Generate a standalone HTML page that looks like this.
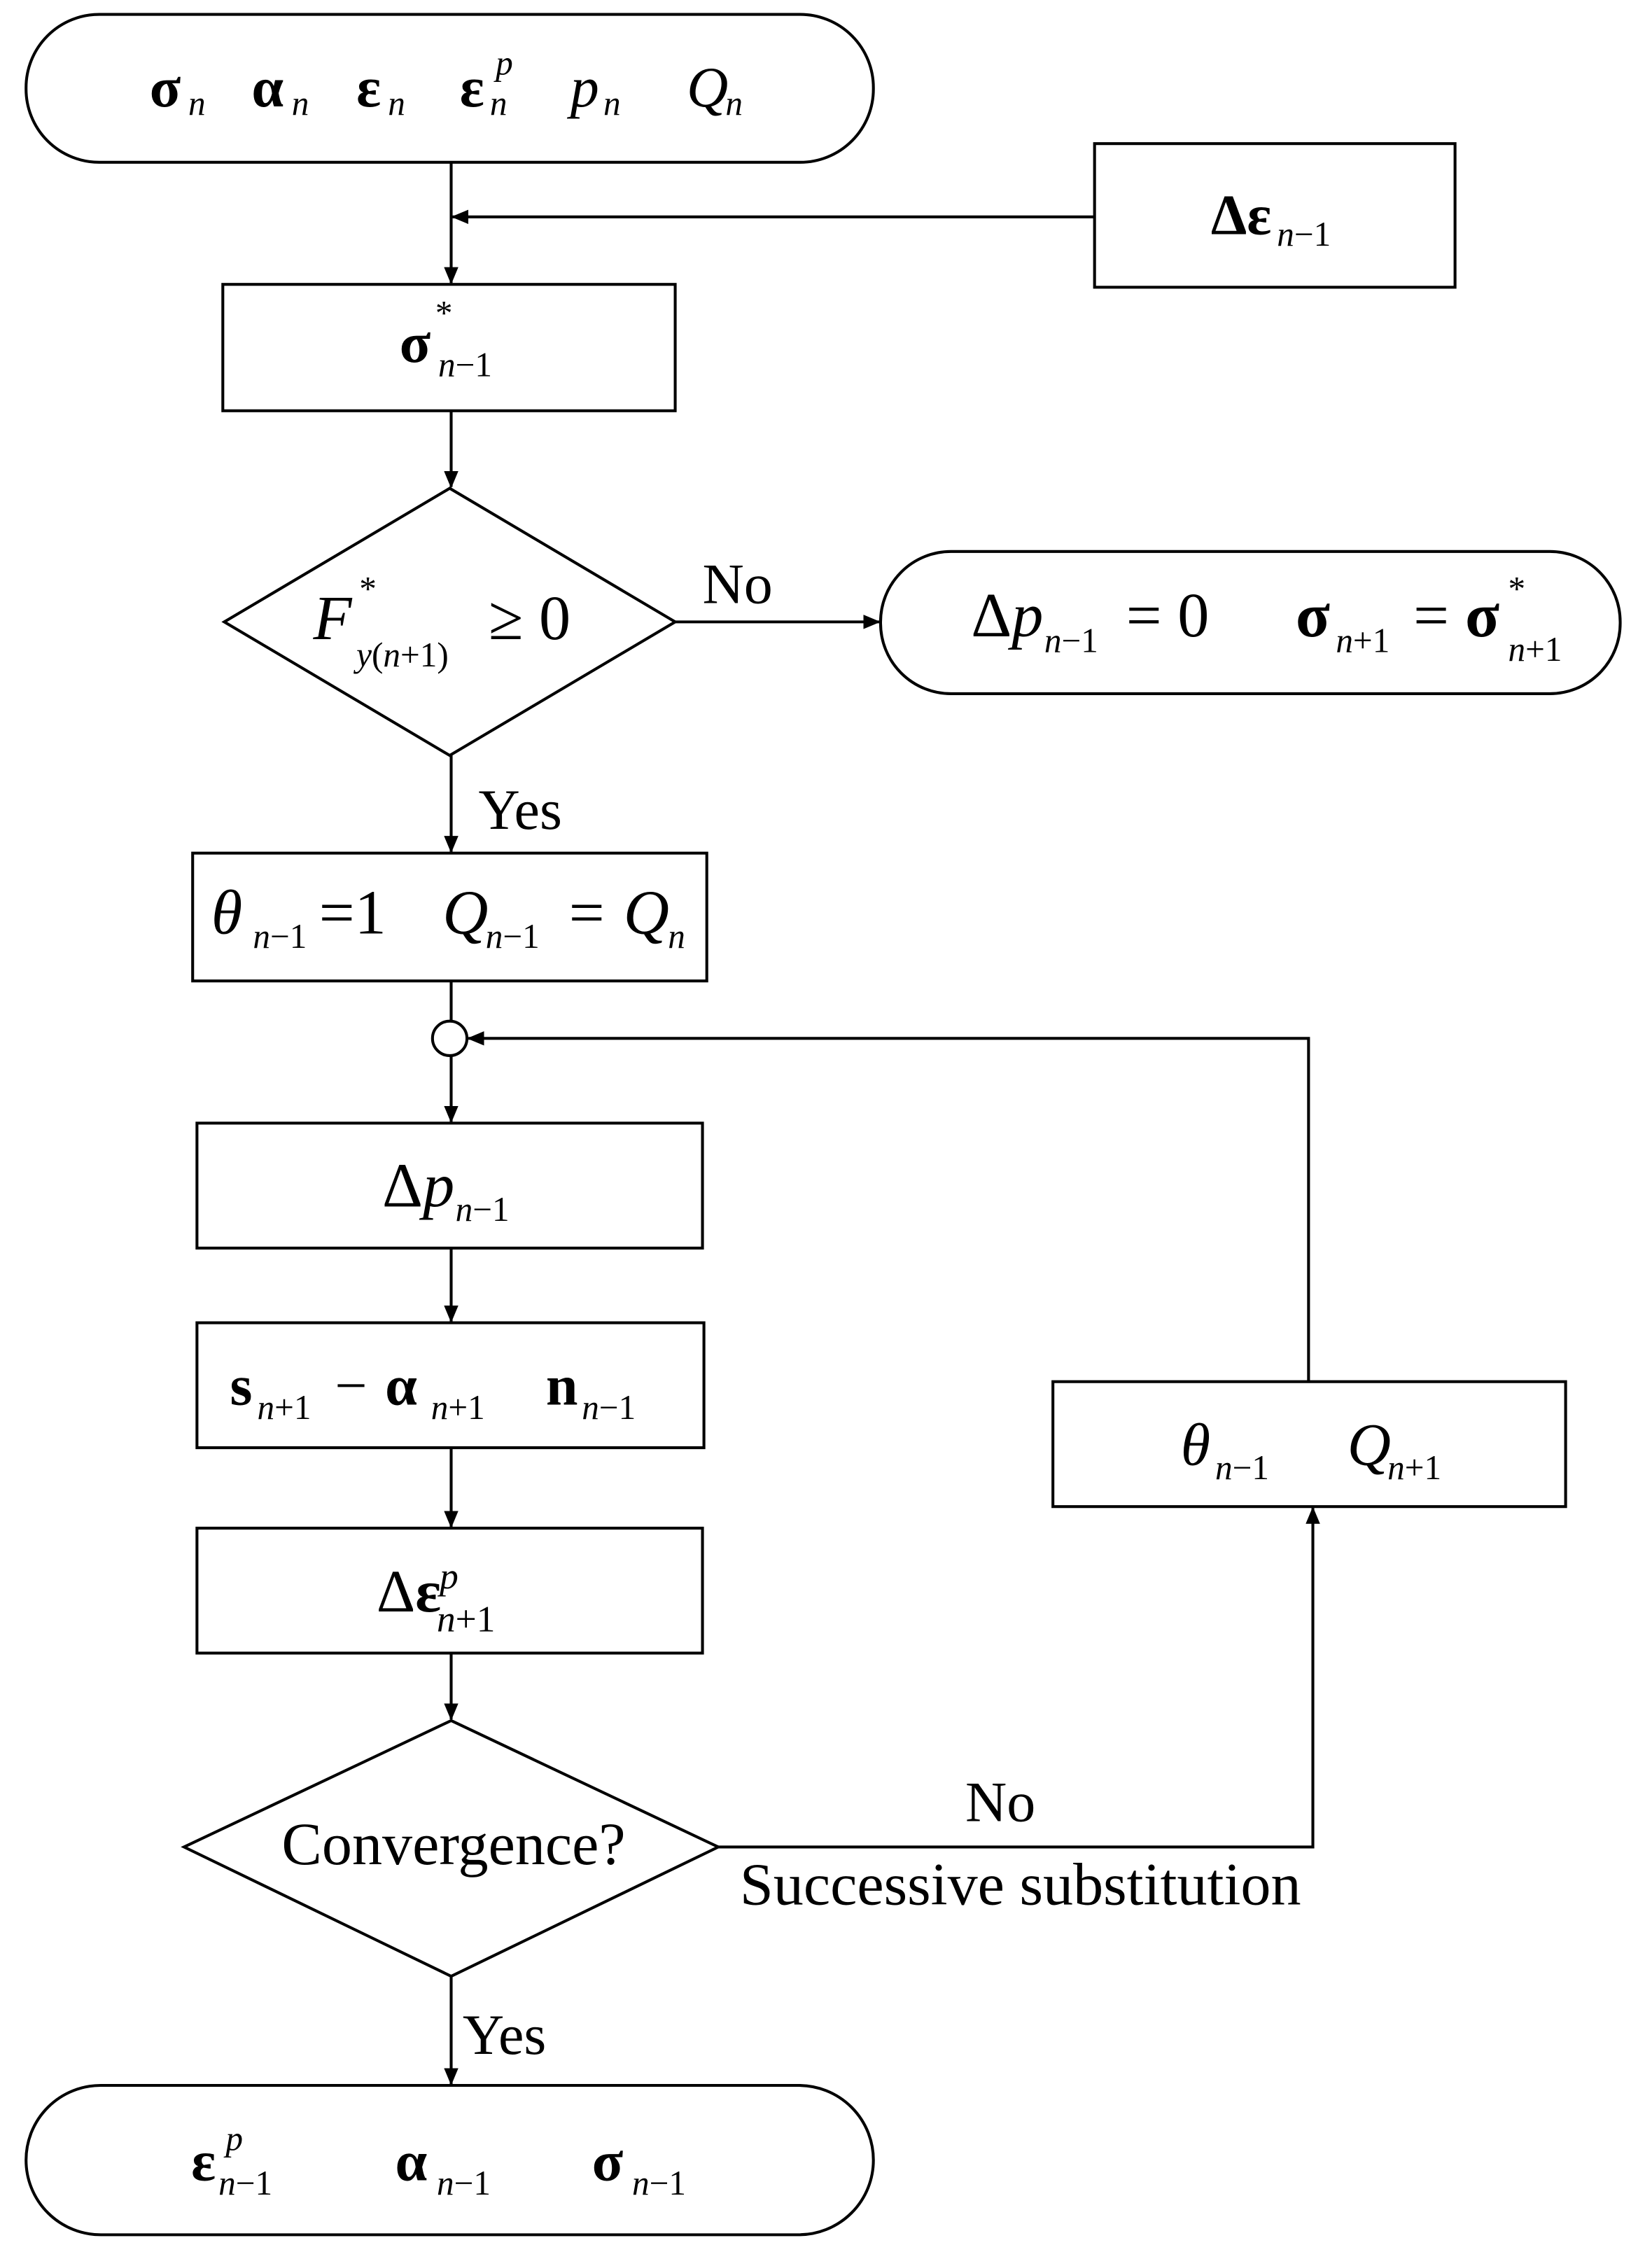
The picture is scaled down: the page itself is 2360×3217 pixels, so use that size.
<!DOCTYPE html>
<html><head><meta charset="utf-8"><style>
html,body{margin:0;padding:0;background:#fff}
svg{display:block}
text{font-family:"Liberation Serif","DejaVu Serif",serif;fill:#000}
.b{font-weight:bold}
.i{font-style:italic}
.s{font-size:24px}
</style></head><body>
<svg width="2360" height="3217" viewBox="0 0 1150 1568" xmlns="http://www.w3.org/2000/svg">
<defs><marker id="a" markerWidth="12" markerHeight="10" refX="11" refY="5" orient="auto" markerUnits="userSpaceOnUse"><path d="M0,0 L12,5 L0,10 Z" fill="#000"/></marker></defs>
<g fill="none" stroke="#000" stroke-width="2">
<rect x="18" y="10" width="590" height="103" rx="51"/>
<rect x="762" y="100" width="251" height="100"/>
<rect x="155" y="198" width="315" height="88"/>
<polygon points="313,340 470,433 313,526 156,433"/>
<rect x="613" y="384" width="515" height="99" rx="49"/>
<rect x="134" y="594" width="358" height="89"/>
<circle cx="313" cy="723" r="12"/>
<rect x="137" y="782" width="352" height="87"/>
<rect x="137" y="921" width="353" height="87"/>
<rect x="137" y="1064" width="352" height="87"/>
<polygon points="314,1198 500,1286 314,1376 128,1286"/>
<rect x="733" y="962" width="357" height="87"/>
<rect x="18" y="1452" width="590" height="104" rx="52"/>
<line x1="314" y1="113" x2="314" y2="197" marker-end="url(#a)"/>
<line x1="762" y1="151" x2="315" y2="151" marker-end="url(#a)"/>
<line x1="314" y1="286" x2="314" y2="339" marker-end="url(#a)"/>
<line x1="470" y1="433" x2="612" y2="433" marker-end="url(#a)"/>
<line x1="314" y1="526" x2="314" y2="593" marker-end="url(#a)"/>
<line x1="314" y1="683" x2="314" y2="711"/>
<line x1="314" y1="735" x2="314" y2="781" marker-end="url(#a)"/>
<polyline points="911,962 911,723 326,723" marker-end="url(#a)"/>
<line x1="314" y1="869" x2="314" y2="920" marker-end="url(#a)"/>
<line x1="314" y1="1008" x2="314" y2="1063" marker-end="url(#a)"/>
<line x1="314" y1="1151" x2="314" y2="1197" marker-end="url(#a)"/>
<polyline points="500,1286 914,1286 914,1050" marker-end="url(#a)"/>
<line x1="314" y1="1376" x2="314" y2="1451" marker-end="url(#a)"/>
</g>
<g font-size="40">
<!-- top -->
<text y="74"><tspan class="b" x="104">σ</tspan><tspan class="b" x="175">α</tspan><tspan class="b" x="248">ε</tspan><tspan class="b" x="320">ε</tspan><tspan class="i" x="397">p</tspan><tspan class="i" x="478">Q</tspan></text>
<text y="80" class="s i"><tspan x="131">n</tspan><tspan x="203">n</tspan><tspan x="270">n</tspan><tspan x="341">n</tspan><tspan x="420">n</tspan><tspan x="505">n</tspan></text>
<text y="52" class="s i" x="345">p</text>
<!-- delta eps -->
<text y="163" x="843" class="b">Δε</text>
<text y="171" x="889" class="s"><tspan class="i">n</tspan>−1</text>
<!-- sigma* -->
<text y="252" x="278" class="b">σ</text>
<text y="226" x="303" class="s">*</text>
<text y="262" x="305" class="s"><tspan class="i">n</tspan>−1</text>
<!-- F* -->
<text y="445" x="218" font-size="44" class="i">F</text>
<text y="418" x="250" class="s">*</text>
<text y="464" x="248" class="s"><tspan class="i">y</tspan>(<tspan class="i">n</tspan>+1)</text>
<text y="445" x="340" font-size="44">≥ 0</text>
<text y="420" x="489">No</text>
<!-- right pill -->
<text y="443" x="676" font-size="44">Δ<tspan class="i">p</tspan></text>
<text y="454" x="727" class="s"><tspan class="i">n</tspan>−1</text>
<text y="443" x="784" font-size="44">= 0</text>
<text y="443" x="902" font-size="44" class="b">σ</text>
<text y="454" x="930" class="s"><tspan class="i">n</tspan>+1</text>
<text y="443" x="984" font-size="44">=</text>
<text y="443" x="1020" font-size="44" class="b">σ</text>
<text y="418" x="1050" class="s">*</text>
<text y="460" x="1050" class="s"><tspan class="i">n</tspan>+1</text>
<text y="577" x="333">Yes</text>
<!-- theta box -->
<text y="650" x="147" font-size="44" class="i">θ</text>
<text y="660" x="176" class="s"><tspan class="i">n</tspan>−1</text>
<text y="650" x="222" font-size="44">=1</text>
<text y="650" x="308" font-size="44" class="i">Q</text>
<text y="660" x="338" class="s"><tspan class="i">n</tspan>−1</text>
<text y="650" x="396" font-size="44">=</text>
<text y="650" x="434" font-size="44" class="i">Q</text>
<text y="660" x="465" class="s i">n</text>
<!-- delta p -->
<text y="840" x="266" font-size="44">Δ<tspan class="i">p</tspan></text>
<text y="850" x="317" class="s"><tspan class="i">n</tspan>−1</text>
<!-- s box -->
<text y="978" x="160" class="b">s</text>
<text y="988" x="179" class="s"><tspan class="i">n</tspan>+1</text>
<text y="978" x="233">−</text>
<text y="978" x="268" class="b">α</text>
<text y="988" x="300" class="s"><tspan class="i">n</tspan>+1</text>
<text y="978" x="380" class="b">n</text>
<text y="988" x="405" class="s"><tspan class="i">n</tspan>−1</text>
<!-- delta eps p -->
<text y="1122" x="262" font-size="42">Δ<tspan class="b">ε</tspan></text>
<text y="1106" x="306" font-size="26" class="i">p</text>
<text y="1136" x="304" font-size="26"><tspan class="i">n</tspan>+1</text>
<!-- convergence -->
<text y="1298" x="196" font-size="42">Convergence?</text>
<text y="1268" x="672">No</text>
<text y="1326" x="515" font-size="42">Successive substitution</text>
<!-- theta Q -->
<text y="1020" x="822" font-size="42" class="i">θ</text>
<text y="1030" x="846" class="s"><tspan class="i">n</tspan>−1</text>
<text y="1020" x="938" font-size="42" class="i">Q</text>
<text y="1030" x="966" class="s"><tspan class="i">n</tspan>+1</text>
<text y="1430" x="322">Yes</text>
<!-- bottom -->
<text y="1518" x="133" class="b">ε</text>
<text y="1497" x="157" class="s i">p</text>
<text y="1528" x="152" class="s"><tspan class="i">n</tspan>−1</text>
<text y="1518" x="275" class="b">α</text>
<text y="1528" x="304" class="s"><tspan class="i">n</tspan>−1</text>
<text y="1518" x="412" class="b">σ</text>
<text y="1528" x="440" class="s"><tspan class="i">n</tspan>−1</text>
</g>
</svg>
</body></html>
